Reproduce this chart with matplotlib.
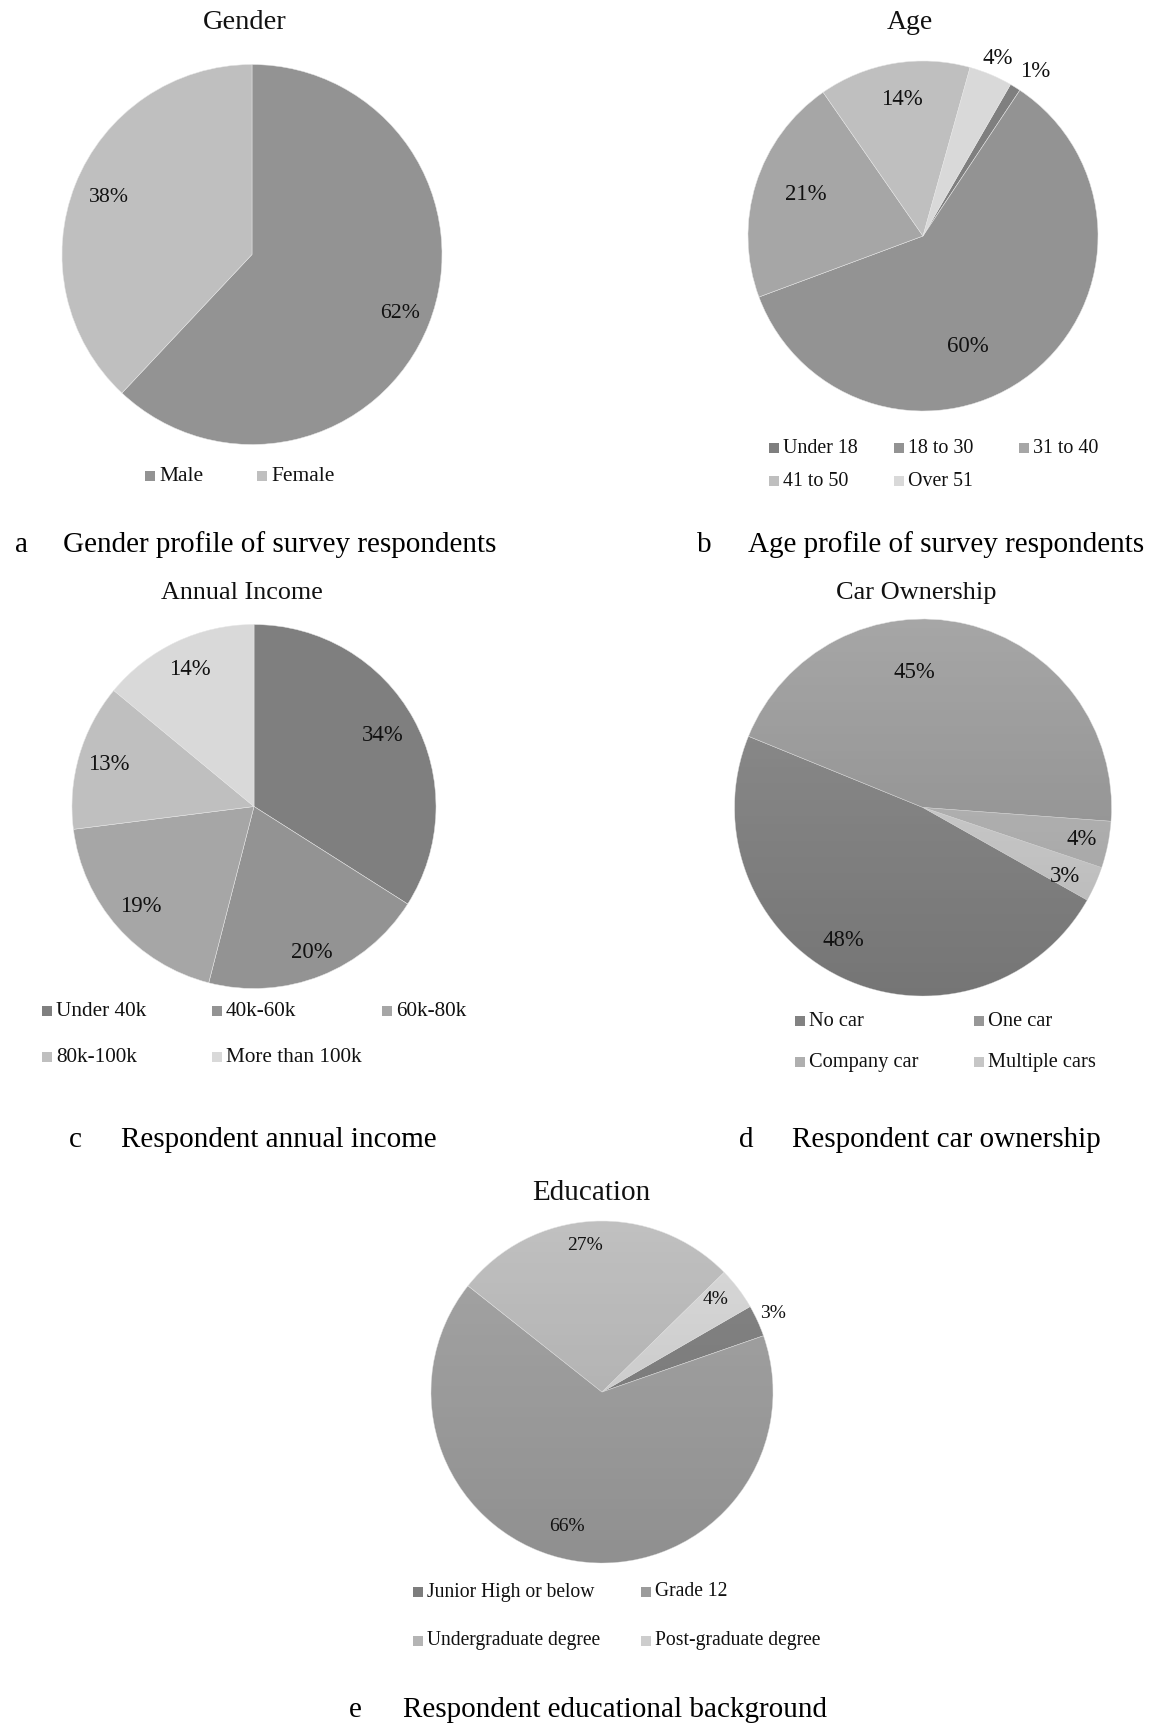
import numpy as np
import matplotlib
matplotlib.use("Agg")
import matplotlib.pyplot as plt
from matplotlib.patches import Rectangle, Circle

# ---------------- data ----------------
gender_labels = ["Male", "Female"]
gender_values = [62, 38]

age_labels = ["Under 18", "18 to 30", "31 to 40", "41 to 50", "Over 51"]
age_values = [1, 60, 21, 14, 4]

income_labels = ["Under 40k", "40k-60k", "60k-80k", "80k-100k", "More than 100k"]
income_values = [34, 20, 19, 13, 14]

car_labels = ["No car", "One car", "Company car", "Multiple cars"]
car_values = [48, 45, 4, 3]

edu_labels = ["Junior High or below", "Grade 12", "Undergraduate degree", "Post-graduate degree"]
edu_values = [3, 66, 27, 4]

titles = ["Gender", "Age", "Annual Income", "Car Ownership", "Education"]
caption_letters = ["a", "b", "c", "d", "e"]
caption_texts = ["Gender profile of survey respondents",
                 "Age profile of survey respondents",
                 "Respondent annual income",
                 "Respondent car ownership",
                 "Respondent educational background"]

# ---------------- style ----------------
plt.rcParams["font.family"] = ["Liberation Serif", "DejaVu Serif"]
W, H = 1158, 1727
fig = plt.figure(figsize=(W / 100, H / 100), dpi=100)
fig.patch.set_facecolor("white")

bg = fig.add_axes([0, 0, 1, 1], zorder=0)
bg.set_xlim(0, W)
bg.set_ylim(H, 0)
bg.axis("off")

TXT = "#111111"


def draw_pie(cx, cy, r, values, colors, startangle, lab_r, lab_d, lab_fs,
             grad=0.0):
    ax = fig.add_axes([(cx - r) / W, 1 - (cy + r) / H, 2 * r / W, 2 * r / H], zorder=2)
    wedges, _ = ax.pie(values, colors=colors, startangle=startangle,
                       counterclock=False, radius=1.0,
                       wedgeprops=dict(edgecolor="#e6e6e6", linewidth=0.35))
    ax.set_xlim(-1.0, 1.0)
    ax.set_ylim(-1.0, 1.0)
    ax.set_aspect("equal")
    ax.axis("off")
    if grad > 0:
        g = np.linspace(0, 1, 256).reshape(-1, 1)
        img = np.zeros((256, 1, 4))
        img[..., 3] = g * grad
        im = ax.imshow(img, extent=(-1, 1, -1, 1), origin="upper",
                       aspect="auto", zorder=3, interpolation="bilinear")
        im.set_clip_path(Circle((0, 0), 1.0, transform=ax.transData))
        ax.set_xlim(-1.0, 1.0)
        ax.set_ylim(-1.0, 1.0)
    for w, v, rf, d in zip(wedges, values, lab_r, lab_d):
        phi = np.deg2rad((w.theta1 + w.theta2) / 2.0 - d)
        ax.text(rf * np.cos(phi), rf * np.sin(phi), f"{v}%", ha="center",
                va="center", fontsize=lab_fs, color=TXT, zorder=5)
    return ax


def draw_legend(labels, colors, x0, rows, colw, ncol, fs, s=10):
    for i, (lab, col) in enumerate(zip(labels, colors)):
        c = i % ncol
        rr = i // ncol
        x = x0 + c * colw
        y = rows[rr]
        bg.add_patch(Rectangle((x, y - s / 2), s, s, facecolor=col, edgecolor="none"))
        bg.text(x + s + 4, y, lab, ha="left", va="center", fontsize=fs, color=TXT)


def caption(letter, text, xl, xt, y, fs=21):
    bg.text(xl, y, letter, ha="left", va="center", fontsize=fs, color="black")
    bg.text(xt, y, text, ha="left", va="center", fontsize=fs, color="black")


def darken(hexcol, f):
    v = int(hexcol[1:3], 16)
    v = int(round(v * (1 - f)))
    return "#{0:02x}{0:02x}{0:02x}".format(v)


# ---------- a: Gender ----------
gender_colors = ["#939393", "#bfbfbf"]
draw_pie(252, 254.5, 190, gender_values, gender_colors, 90,
         [0.84, 0.81], [0, 0], 15.7)
bg.text(245, 22, titles[0], ha="center", va="center", fontsize=20.5, color=TXT)
draw_legend(gender_labels, gender_colors, 145, [476], 112, 2, 15.5)
caption(caption_letters[0], caption_texts[0], 15, 63, 545)

# ---------- b: Age ----------
age_colors = ["#7f7f7f", "#939393", "#a6a6a6", "#bfbfbf", "#d9d9d9"]
draw_pie(923, 236, 175, age_values, age_colors, 60,
         [1.14, 0.68, 0.71, 0.79, 1.10], [2.5, 16, 2, 1, 0], 16.5)
bg.text(910, 22, titles[1], ha="center", va="center", fontsize=20, color=TXT)
draw_legend(age_labels, age_colors, 769, [448, 481], 125, 3, 14.4)
caption(caption_letters[1], caption_texts[1], 697, 748, 545)

# ---------- c: Annual income ----------
income_colors = ["#7f7f7f", "#939393", "#a6a6a6", "#bfbfbf", "#d9d9d9"]
draw_pie(254, 806.5, 182, income_values, income_colors, 90,
         [0.81, 0.86, 0.83, 0.83, 0.83], [0, 0, 0, 0, 0], 16.4)
bg.text(242, 593, titles[2], ha="center", va="center", fontsize=18.8, color=TXT)
draw_legend(income_labels, income_colors, 42, [1011, 1057], 170, 3, 15.3)
caption(caption_letters[2], caption_texts[2], 69, 121, 1140)

# ---------- d: Car ownership ----------
car_colors = ["#8f8f8f", "#a6a6a6", "#c0c0c0", "#dadada"]
draw_pie(923, 807.5, 188.5, car_values, car_colors, -29.4,
         [0.82, 0.72, 0.86, 0.84], [5, -17, 0, 2], 16.4, grad=0.18)
bg.text(916, 593, titles[3], ha="center", va="center", fontsize=19, color=TXT)
draw_legend(car_labels, [darken(c, 0.09) for c in car_colors], 795, [1021, 1062], 179, 2, 14.7)
caption(caption_letters[3], caption_texts[3], 739, 792, 1140)

# ---------- e: Education ----------
edu_colors = ["#858585", "#a5a5a5", "#c0c0c0", "#dadada"]
draw_pie(602, 1392, 171, edu_values, edu_colors, 30,
         [1.10, 0.81, 0.86, 0.86], [0, 5, -3.5, -2], 14, grad=0.13)
bg.text(591, 1193, titles[4], ha="center", va="center", fontsize=21, color=TXT)
draw_legend(edu_labels, [darken(c, 0.06) for c in edu_colors], 413, [1592, 1641], 228, 2, 14.1)
caption(caption_letters[4], caption_texts[4], 349, 403, 1710)

fig.savefig("out.png", dpi=100, facecolor="white")
